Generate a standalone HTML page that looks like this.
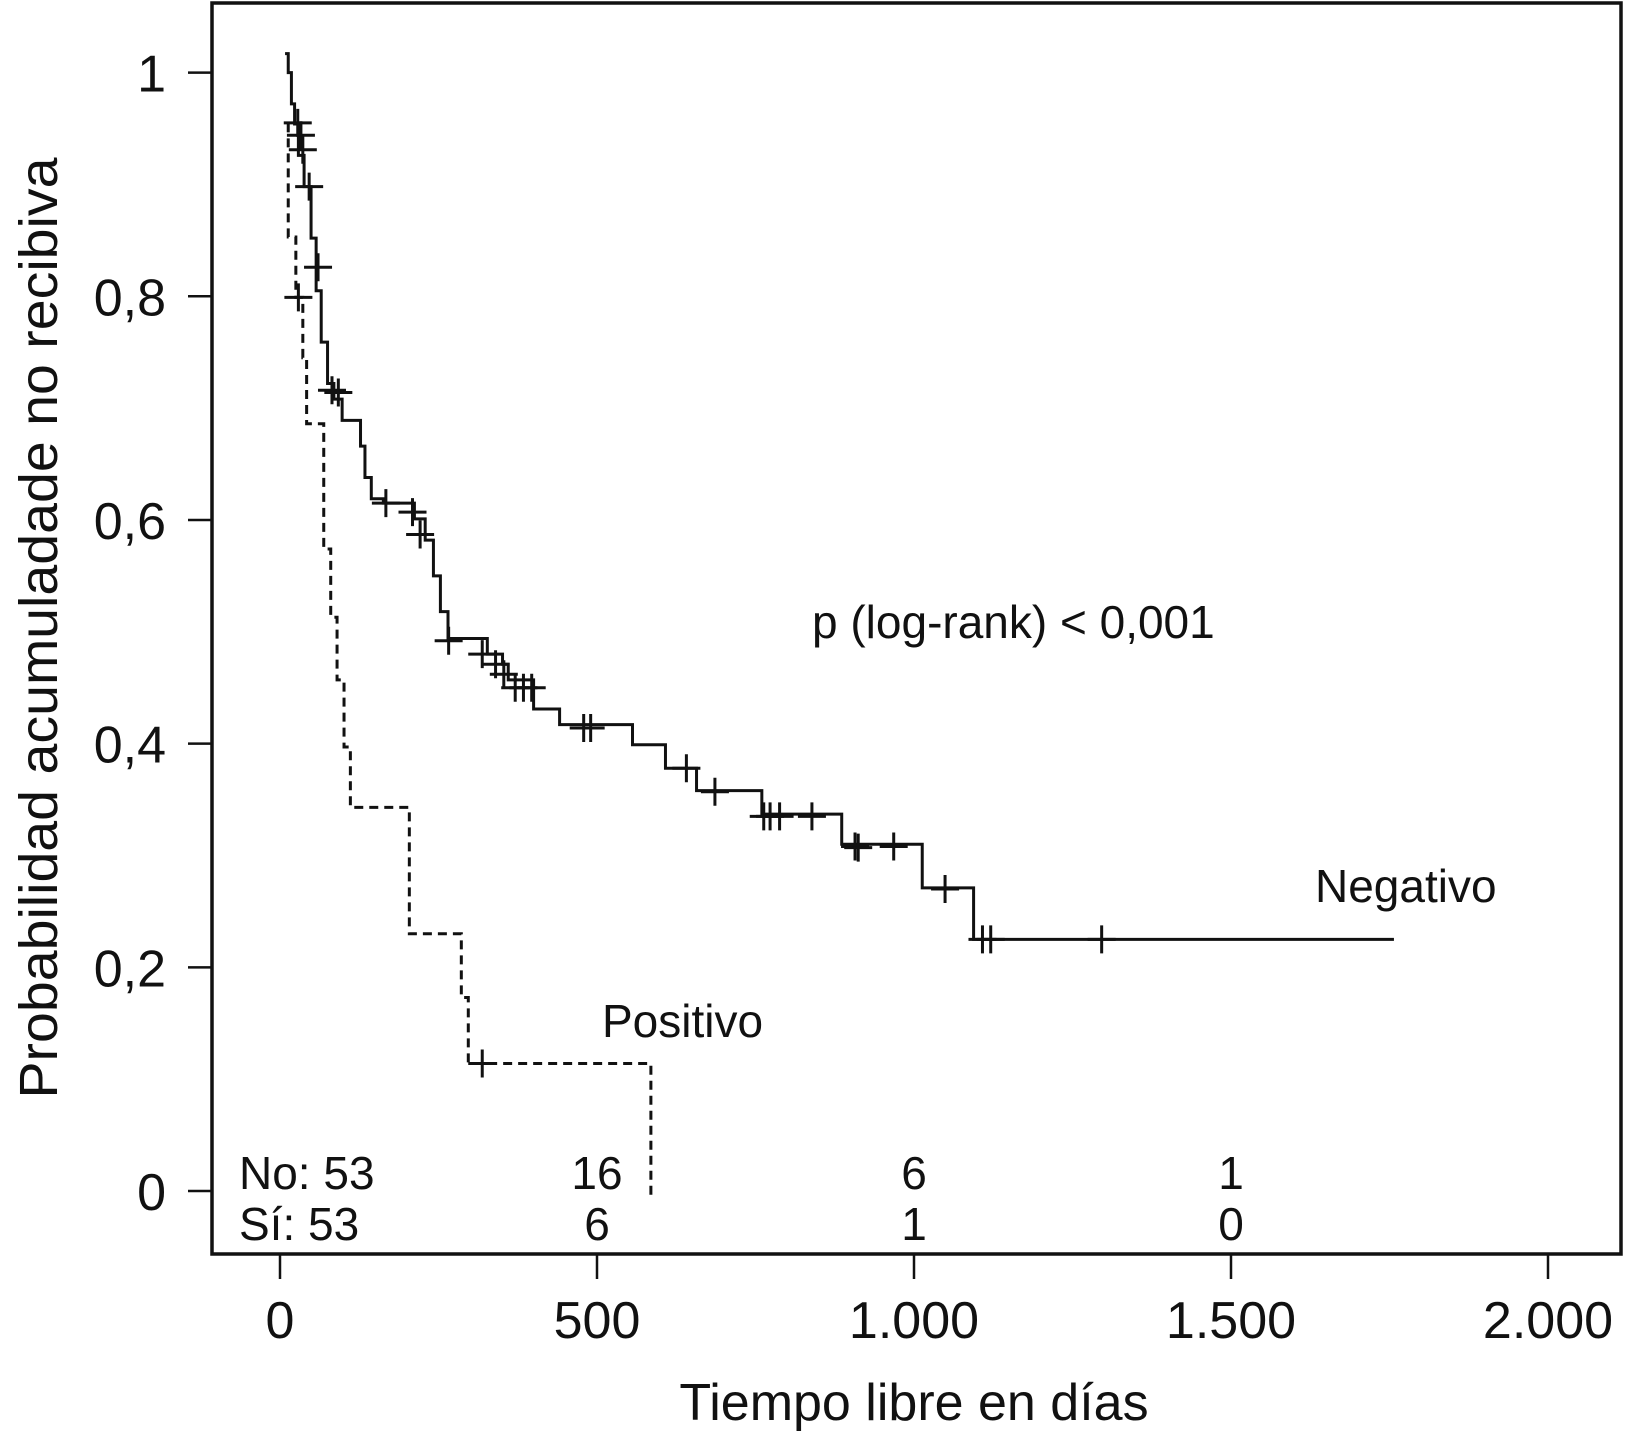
<!DOCTYPE html>
<html><head><meta charset="utf-8"><style>
html,body{margin:0;padding:0;background:#fff}
svg text{font-family:"Liberation Sans",sans-serif;fill:#111}
</style></head><body>
<svg id="chart" width="1627" height="1444" viewBox="0 0 1627 1444" xmlns="http://www.w3.org/2000/svg">
<rect x="212" y="3" width="1409" height="1251" fill="none" stroke="#111" stroke-width="3.5"/>
<g id="axes"></g>
<g id="series"></g>
<text x="812" y="638" font-size="46">p (log-rank) &lt; 0,001</text>
<text x="1315" y="902" font-size="46">Negativo</text>
<text x="602" y="1037" font-size="46">Positivo</text>
<text transform="translate(57,628) rotate(-90)" text-anchor="middle" font-size="54" textLength="941" lengthAdjust="spacingAndGlyphs">Probabilidad acumuladade no recibiva</text>
<text x="914" y="1420" text-anchor="middle" font-size="52">Tiempo libre en días</text>
</svg>
<script>
const xTicks=[0,500,1000,1500,2000];
const xTickLabels=["0","500","1.000","1.500","2.000"];
const yTicks=[0,0.2,0.4,0.6,0.8,1];
const yTickLabels=["0","0,2","0,4","0,6","0,8","1"];
// Negativo (solid)
const negStart=[8,1.017];
const negEnd=1757;
const negTimes=[13,18,23,29,38,49,57,65,75,85,98,127,134,144,163,212,229,242,253,265,327,351,360,400,441,556,608,657,760,886,1013,1094];
const negSurv=[1.0,0.972,0.954,0.926,0.898,0.852,0.805,0.759,0.722,0.708,0.689,0.666,0.638,0.619,0.615,0.601,0.582,0.55,0.518,0.494,0.48,0.471,0.457,0.431,0.417,0.399,0.378,0.358,0.337,0.31,0.271,0.225];
const negCensT=[28,33,36,46,60,82,92,167,209,221,266,319,340,353,371,384,397,479,490,641,686,763,773,788,839,907,912,968,1049,1108,1121,1296];
const negCensS=[0.955,0.944,0.931,0.898,0.826,0.716,0.714,0.615,0.607,0.587,0.492,0.48,0.471,0.462,0.45,0.45,0.45,0.414,0.414,0.378,0.357,0.335,0.335,0.335,0.335,0.308,0.307,0.308,0.27,0.225,0.225,0.225];
// Positivo (dashed)
const posStart=[12,0.954];
const posEnd=585;
const posTimes=[13,25,36,42,69,80,90,101,111,204,286,297,585];
const posSurv=[0.853,0.799,0.745,0.686,0.574,0.513,0.457,0.397,0.343,0.23,0.173,0.114,-0.007];
const posCensT=[29,319];
const posCensS=[0.799,0.114];
// numbers at risk
const riskT=[0,500,1000,1500];
const riskNo=["No: 53","16","6","1"];
const riskSi=["Sí: 53","6","1","0"];

const NS="http://www.w3.org/2000/svg";
const X=t=>280+t*317/500;
const Y=s=>1191-s*1118.4;
function mk(tag,attrs,parent){const e=document.createElementNS(NS,tag);for(const k in attrs)e.setAttribute(k,attrs[k]);parent.appendChild(e);return e;}
const axes=document.getElementById('axes'),ser=document.getElementById('series');
xTicks.forEach((t,i)=>{
 const l=mk('line',{x1:X(t),x2:X(t),y1:1254,y2:1279,stroke:'#111','stroke-width':2.5},axes);
 
 
 const tx=mk('text',{x:X(t),y:1338,'text-anchor':'middle','font-size':52},axes);
 tx.textContent=xTickLabels[i];
 
 
});
yTicks.forEach((s,i)=>{
 const l=mk('line',{x1:188,x2:212,y1:Y(s),y2:Y(s),stroke:'#111','stroke-width':2.5},axes);
 
 
 const tx=mk('text',{x:166,y:Y(s)+19,'text-anchor':'end','font-size':52},axes);
 tx.textContent=yTickLabels[i];
 
 
});
function stepPath(start,times,surv,end){
 let s=start[1],d=`M${X(start[0])},${Y(s)}`;
 times.forEach((t,i)=>{d+=` H${X(t)} V${Y(surv[i])}`;s=surv[i];});
 const last=times[times.length-1];
 if(end>last)d+=` H${X(end)}`;
 return d;
}
const pn=mk('path',{d:stepPath(negStart,negTimes,negSurv,negEnd),fill:'none',stroke:'#111','stroke-width':3},ser);


const pp=mk('path',{d:stepPath(posStart,posTimes,posSurv,posEnd),fill:'none',stroke:'#111','stroke-width':3,'stroke-dasharray':'9,6'},ser);


function cens(ts,ss,name){
 ts.forEach((t,i)=>{
  const g=mk('path',{d:`M${X(t)-14},${Y(ss[i])} h28 M${X(t)},${Y(ss[i])-14} v28`,stroke:'#111','stroke-width':3,fill:'none'},ser);
  
  
 });
}
cens(negCensT,negCensS,'negativo-censor-mark');
cens(posCensT,posCensS,'positivo-censor-mark');
riskT.forEach((t,i)=>{
 [[riskNo,1189],[riskSi,1240]].forEach(([arr,y])=>{
  const first=i===0;
  const tx=mk('text',{x:first?239:X(t),y:y,'text-anchor':first?'start':'middle','font-size':46},ser);
  tx.textContent=arr[i];
  
  
 });
});
</script>
</body></html>
